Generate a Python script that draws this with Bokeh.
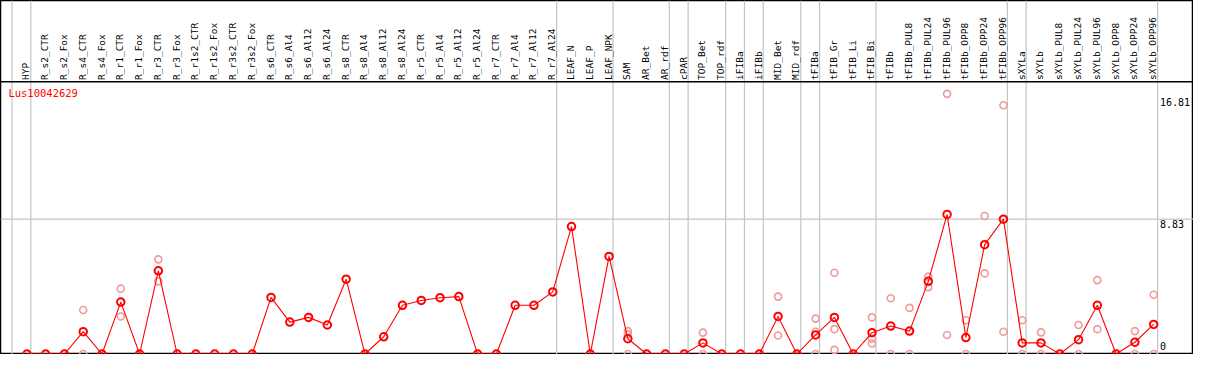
import math
from bokeh.plotting import figure
from bokeh.models import Range1d, Span, ColumnDataSource
from bokeh.core.properties import value
from bokeh.embed import file_html
from bokeh.resources import INLINE

# ---------------- data ----------------
gene = "Lus10042629"

labels = [
    "HYP", "R_s2_CTR", "R_s2_Fox", "R_s4_CTR", "R_s4_Fox", "R_r1_CTR", "R_r1_Fox",
    "R_r3_CTR", "R_r3_Fox", "R_r1s2_CTR", "R_r1s2_Fox", "R_r3s2_CTR", "R_r3s2_Fox",
    "R_s6_CTR", "R_s6_Al4", "R_s6_Al12", "R_s6_Al24", "R_s8_CTR", "R_s8_Al4",
    "R_s8_Al12", "R_s8_Al24", "R_r5_CTR", "R_r5_Al4", "R_r5_Al12", "R_r5_Al24",
    "R_r7_CTR", "R_r7_Al4", "R_r7_Al12", "R_r7_Al24", "LEAF_N", "LEAF_P", "LEAF_NPK",
    "SAM", "AR_Bet", "AR_rdf", "cPAR", "TOP_Bet", "TOP_rdf", "iFIBa", "iFIBb",
    "MID_Bet", "MID_rdf", "tFIBa", "tFIB_Gr", "tFIB_Li", "tFIB_Bi", "tFIBb",
    "tFIBb_PUL8", "tFIBb_PUL24", "tFIBb_PUL96", "tFIBb_OPP8", "tFIBb_OPP24",
    "tFIBb_OPP96", "sXYLa", "sXYLb", "sXYLb_PUL8", "sXYLb_PUL24", "sXYLb_PUL96",
    "sXYLb_OPP8", "sXYLb_OPP24", "sXYLb_OPP96",
]

means = [
    0, 0, 0, 1.46, 0, 3.40, 0, 5.45, 0, 0, 0, 0, 0,
    3.71, 2.09, 2.40, 1.90, 4.90, 0, 1.13, 3.19, 3.51, 3.69, 3.76, 0,
    0, 3.19, 3.19, 4.07, 8.35, 0, 6.39,
    1.00, 0, 0, 0, 0.73, 0, 0, 0,
    2.46, 0, 1.25, 2.40, 0, 1.40, 1.83,
    1.50, 4.76, 9.14, 1.08, 7.16,
    8.83, 0.73, 0.73, 0, 0.94, 3.19,
    0, 0.77, 1.94,
]

# replicate values (by sample label)
replicates = {
    "R_s4_CTR": [2.88, 0],
    "R_r1_CTR": [4.28, 2.46],
    "R_r3_CTR": [6.20, 4.76],
    "SAM": [1.50, 1.30, 0],
    "TOP_Bet": [1.40, 0],
    "MID_Bet": [3.76, 1.21],
    "tFIBa": [2.32, 1.46, 0],
    "tFIB_Gr": [5.32, 1.63, 0.27],
    "tFIB_Bi": [2.40, 1.00, 0.69],
    "tFIBb": [3.65, 0],
    "tFIBb_PUL8": [3.02, 0],
    "tFIBb_PUL24": [5.07, 4.38],
    "tFIBb_PUL96": [17.04, 1.25],
    "tFIBb_OPP8": [2.21, 0],
    "tFIBb_OPP24": [9.04, 5.28],
    "tFIBb_OPP96": [16.29, 1.46],
    "sXYLa": [2.21, 0],
    "sXYLb": [1.42, 0],
    "sXYLb_PUL24": [1.90, 0],
    "sXYLb_PUL96": [4.84, 1.63],
    "sXYLb_OPP24": [1.50, 0],
    "sXYLb_OPP96": [3.88, 0],
}

# group separators: a line is drawn after these sample labels (None = before first)
group_ends = [None, "HYP", "R_r7_Al24", "LEAF_NPK", "AR_rdf", "cPAR", "TOP_rdf",
              "iFIBa", "iFIBb", "MID_rdf", "tFIBa", "tFIB_Bi", "tFIBb_OPP96",
              "sXYLa", "sXYLb_OPP96"]

scale_ticks = [0, 8.83, 16.81]

# ---------------- layout helpers (reference pixel geometry) ----------------
X0_PX, X_STEP = 26.7, 19.0
Y0_PX, Y_STEP = 369.3, 15.95

def rx(px):
    return (px - X0_PX) / X_STEP

def ry(py):
    return (Y0_PX - py) / Y_STEP

W, H = 1193, 354
mono = value("DejaVu Sans Mono")

p = figure(width=W, height=H, output_backend="svg", toolbar_location=None,
           x_range=Range1d(rx(0), rx(1207)), y_range=Range1d(ry(369.8), ry(0)),
           x_axis_type=None, y_axis_type=None, min_border=0,
           background_fill_color="white", border_fill_color="white")
p.grid.visible = False
p.outline_line_color = "black"
p.outline_line_width = 1.5

idx = list(range(len(labels)))
pos = {lab: i for i, lab in enumerate(labels)}

# vertical group separators
for g in group_ends:
    k = -1 if g is None else pos[g]
    p.add_layout(Span(location=k + 0.21, dimension="height", line_color="#c4c4c4",
                      line_width=1.2, level="underlay"))

# horizontal reference line at middle tick and header separator
p.add_layout(Span(location=scale_ticks[1], dimension="width", line_color="#c4c4c4",
                  line_width=1.2, level="underlay"))
p.add_layout(Span(location=ry(85), dimension="width", line_color="black",
                  line_width=1.5))

# header labels (rotated)
p.text(x=idx, y=[ry(83)] * len(idx), text=labels, angle=math.pi / 2,
       text_align="left", text_baseline="middle", text_font=mono,
       text_font_size="9.5px", text_color="black", x_offset=-1)

# gene name
p.text(x=[rx(8)], y=[ry(96.5)], text=[gene], text_align="left",
       text_baseline="middle", text_font=mono, text_font_size="10.5px",
       text_color="red")

# scale labels
tick_txt = [("%g" % t) if t == 0 else ("%.2f" % t) for t in scale_ticks]
p.text(x=[rx(1173)] * 2, y=scale_ticks[1:], text=tick_txt[1:], text_align="left",
       text_baseline="top", text_font=mono, text_font_size="10px",
       text_color="black", y_offset=1)
p.text(x=[rx(1173)], y=[scale_ticks[0]], text=[tick_txt[0]], text_align="left",
       text_baseline="bottom", text_font=mono, text_font_size="10px",
       text_color="black", y_offset=-4)

# replicates
rep_x, rep_y = [], []
for lab, vals in replicates.items():
    for v in vals:
        rep_x.append(pos[lab])
        rep_y.append(v)
p.scatter(rep_x, rep_y, marker="circle", size=7, fill_color=None,
          line_color="#f09a9a", line_width=1.6)

# mean line + markers
src = ColumnDataSource(dict(x=idx, y=means))
p.line("x", "y", source=src, line_color="red", line_width=1.1)
p.scatter("x", "y", source=src, marker="circle", size=7.5, fill_color=None,
          line_color="red", line_width=2)

open("out.html", "w").write(file_html(p, INLINE))
